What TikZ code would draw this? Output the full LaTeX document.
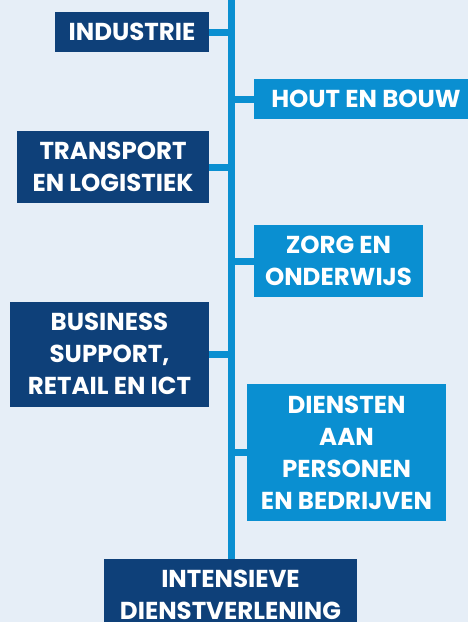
\documentclass[tikz,border=0pt]{standalone}
\usepackage{fontspec}
\setmainfont{Poppins}
\usepackage{xcolor}
\usepackage{tikz}
\definecolor{bgblue}{HTML}{E6EEF7}
\definecolor{darkbox}{HTML}{0E4079}
\definecolor{lightbox}{HTML}{0A8FD1}

\begin{document}
\begin{tikzpicture}[x=1pt, y=-1pt,
    sector/.style={fill=#1, text=white, inner sep=0pt, align=center,
      font=\fontsize{24.5}{32}\selectfont\bfseries},
    link/.style={draw=lightbox, line width=7pt}]
          \useasboundingbox[fill=bgblue] (0,0) rectangle (468,622);

          \coordinate(top) at (231.5, -5);
          \coordinate(bot) at (231.5, 570);

          \node[sector=darkbox, minimum width=154pt, minimum height=40pt](IND) at (132, 32) {INDUSTRIE};
          \node[sector=lightbox, minimum width=224pt, minimum height=40pt](HOUT) at (366, 99) {HOUT EN BOUW};
          \node[sector=darkbox, minimum width=192pt, minimum height=72pt](TRANS) at (113, 167) {TRANSPORT\\EN LOGISTIEK};
          \node[sector=lightbox, minimum width=169pt, minimum height=72pt](ZORG) at (338.5, 261) {ZORG EN\\ONDERWIJS};
          \node[sector=darkbox, minimum width=199pt, minimum height=105pt](BUS) at (109.5, 354) {BUSINESS\\SUPPORT,\\RETAIL EN ICT};
          \node[sector=lightbox, minimum width=199pt, minimum height=137pt](DIEN) at (346.5, 452.5) {DIENSTEN\\AAN\\PERSONEN\\EN BEDRIJVEN};

          \draw[link] (top) -- (bot);
          \draw[link] (IND.east) -- (IND.east -| top) (TRANS.east) -- (TRANS.east -| top)
            (BUS.east) -- (BUS.east -| top);
          \draw[link] (HOUT.west) -- (HOUT.west -| top) (ZORG.west) -- (ZORG.west -| top)
            (DIEN.west) -- (DIEN.west -| top);

          \node[sector=darkbox, minimum width=253pt, minimum height=72pt](INT) at (230.5, 595) {INTENSIEVE\\DIENSTVERLENING};
        \end{tikzpicture}
\end{document}
